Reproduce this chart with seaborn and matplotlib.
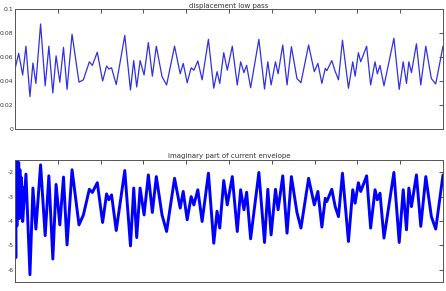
import numpy as np
import pandas as pd
import seaborn as sns
import matplotlib
matplotlib.use("Agg")
import matplotlib.pyplot as plt

# x positions (0..10 along the axis) of the peaks / troughs
t_disp = [0.007, 0.086, 0.179, 0.256, 0.349, 0.419, 0.488, 0.598, 0.705, 0.791,
          0.884, 0.960, 1.047, 1.133, 1.216, 1.333, 1.495, 1.598, 1.737, 1.807,
          1.923, 2.047, 2.140, 2.193, 2.256, 2.365, 2.565, 2.698, 2.774, 2.844,
          2.923, 3.016, 3.116, 3.209, 3.302, 3.435, 3.542, 3.728, 3.860, 3.930,
          4.023, 4.116, 4.179, 4.272, 4.372, 4.519, 4.644, 4.721, 4.784, 4.877,
          4.960, 5.077, 5.193, 5.272, 5.349, 5.412, 5.505, 5.698, 5.830, 5.907,
          5.984, 6.086, 6.147, 6.256, 6.356, 6.458, 6.588, 6.681, 6.860, 6.993,
          7.077, 7.170, 7.249, 7.286, 7.402, 7.481, 7.558, 7.651, 7.791, 7.891,
          7.947, 8.023, 8.077, 8.216, 8.309, 8.412, 8.465, 8.528, 8.621, 8.853,
          8.977, 9.070, 9.147, 9.202, 9.263, 9.379, 9.481, 9.598, 9.728, 9.830,
          10.0]

disp = [0.051, 0.063, 0.045, 0.069, 0.027, 0.055, 0.038, 0.0875, 0.036, 0.069,
        0.030, 0.061, 0.039, 0.068, 0.033, 0.079, 0.039, 0.041, 0.056, 0.053,
        0.064, 0.040, 0.0525, 0.050, 0.051, 0.037, 0.078, 0.0325, 0.057, 0.035,
        0.057, 0.045, 0.072, 0.044, 0.069, 0.0436, 0.0367, 0.069, 0.046, 0.0547,
        0.0386, 0.051, 0.049, 0.0567, 0.041, 0.0747, 0.034, 0.0478, 0.038, 0.0636,
        0.049, 0.069, 0.0367, 0.056, 0.047, 0.053, 0.0344, 0.0747, 0.0333, 0.056,
        0.0367, 0.056, 0.046, 0.070, 0.0367, 0.0686, 0.042, 0.0386, 0.070, 0.0478,
        0.0547, 0.038, 0.0506, 0.0486, 0.057, 0.048, 0.041, 0.074, 0.034, 0.056,
        0.044, 0.0636, 0.056, 0.069, 0.0367, 0.056, 0.046, 0.053, 0.036, 0.0756,
        0.033, 0.056, 0.038, 0.056, 0.047, 0.071, 0.0367, 0.069, 0.042, 0.0375,
        0.069]

# noisy start of the envelope, then the same extrema positions as above
t_burst = [0.007, 0.019, 0.030, 0.044, 0.058, 0.072, 0.086, 0.100, 0.114, 0.128,
           0.142, 0.156, 0.170]
imag_burst = [-3.5, -5.5, -1.5, -4.2, -1.5, -3.8, -1.6, -3.9, -1.9, -3.6,
              -2.2, -3.8, -2.6]

imag_main = [-4.02, -2.08, -6.2, -2.65, -4.33, -1.7, -4.6, -2.15, -5.56, -2.5,
             -4.16, -2.2, -4.98, -1.9, -4.16, -3.75, -2.7, -2.83, -2.43, -4.06,
             -2.89, -3.13, -2.93, -4.39, -1.93, -5.02, -2.65, -4.68, -2.65, -3.75,
             -2.11, -3.65, -2.18, -3.75, -4.43, -2.25, -3.47, -2.79, -3.95, -3.0,
             -3.34, -2.72, -4.02, -2.04, -4.91, -3.6, -4.29, -2.34, -3.34, -2.18,
             -4.43, -2.72, -3.54, -2.82, -4.73, -2.01, -4.88, -2.7, -4.57, -2.7,
             -3.54, -2.15, -4.5, -2.18, -3.65, -4.29, -2.25, -3.34, -2.79, -4.25,
             -3.07, -3.2, -2.7, -3.41, -3.82, -2.04, -4.84, -2.72, -3.27, -2.43,
             -2.79, -2.15, -4.29, -2.72, -3.13, -2.86, -4.7, -2.01, -4.88, -2.72,
             -4.36, -2.65, -3.41, -2.11, -4.22, -2.18, -3.82, -4.33, -2.11]

t_imag = t_burst + t_disp[2:]
imag = imag_burst + imag_main

sns.set_style("white")
plt.rcParams['font.family'] = ['DejaVu Sans']

fig = plt.figure(figsize=(4.46, 2.91), dpi=100)
ax1 = fig.add_axes([15 / 446, 1 - 129 / 291, 428 / 446, 120 / 291])
ax2 = fig.add_axes([15 / 446, 1 - 282 / 291, 428 / 446, 122 / 291])

df1 = pd.DataFrame({'t': t_disp, 'v': disp})
df2 = pd.DataFrame({'t': t_imag, 'v': imag})

sns.lineplot(data=df1, x='t', y='v', ax=ax1, color='#3030e6', linewidth=0.9,
             estimator=None, sort=False)
sns.lineplot(data=df2, x='t', y='v', ax=ax2, color='#0000ff', linewidth=2.1,
             estimator=None, sort=False)

ax1.set_ylim(0, 0.1)
ax1.set_yticks([0, 0.02, 0.04, 0.06, 0.08, 0.1])
ax1.set_yticklabels(['0', '0.02', '0.04', '0.06', '0.08', '0.1'])
ax2.set_ylim(-6.5, -1.5)
ax2.set_yticks([-6, -5, -4, -3, -2])
ax2.set_yticklabels(['-6', '-5', '-4', '-3', '-2'])

ax1.set_title('displacement low pass', fontsize=5, pad=1, color='#333333')
ax2.set_title('imaginary part of current envelope', fontsize=5, pad=1.5, color='#333333')

for ax in (ax1, ax2):
    ax.set_xlim(0, 10)
    ax.set_xticks(np.arange(0, 11))
    ax.set_xticklabels([])
    ax.set_xlabel('')
    ax.set_ylabel('')
    ax.tick_params(direction='in', length=3, width=0.6, top=True, right=True,
                   labelsize=4.4, pad=1, colors='#333333')
    for s in ax.spines.values():
        s.set_color('#555555')
        s.set_linewidth(0.7)

fig.savefig('out.png', dpi=100)
